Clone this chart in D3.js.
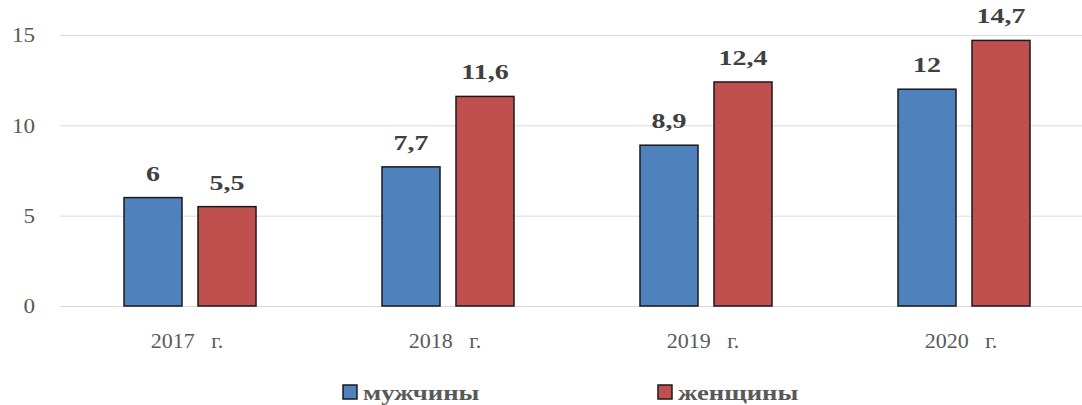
<!DOCTYPE html>
<html>
<head>
<meta charset="utf-8">
<script src="https://cdn.jsdelivr.net/npm/d3@7"></script>
<style>
  body { margin: 0; background: #fff; }
</style>
</head>
<body>
<div id="container"></div>
<script>
const years = ["2017   г.", "2018   г.", "2019   г.", "2020   г."];
const seriesNames = ["мужчины", "женщины"];
const men = [6, 7.7, 8.9, 12];
const women = [5.5, 11.6, 12.4, 14.7];
const yTicks = [0, 5, 10, 15];
const colors = ["#4F81BD", "#C0504D"];

const width = 1082;
const height = 405;
const fontSerif = "'Liberation Serif', 'DejaVu Serif', 'Times New Roman', serif";

const svg = d3.select("#container")
  .append("svg")
  .attr("width", width)
  .attr("height", height)
  .attr("font-family", fontSerif)
  .style("font-family", fontSerif);

// scales
const scaleX = d3.scaleBand()
  .domain(years)
  .range([61, 1093])
  .paddingInner(0)
  .paddingOuter(0);
const scaleY = d3.scaleLinear()
  .domain([0, 15])
  .range([306, 35]);
const scaleSub = d3.scaleBand()
  .domain(seriesNames)
  .range([-66, 66])
  .paddingInner(16 / 74)
  .paddingOuter(0);

// grid
svg.append("g")
  .selectAll("line")
  .data(yTicks)
  .join("line")
  .attr("x1", 60)
  .attr("x2", width)
  .attr("y1", d => scaleY(d) + 0.5)
  .attr("y2", d => scaleY(d) + 0.5)
  .attr("stroke", "#d9d9d9")
  .attr("stroke-width", 1);

// y axis labels
svg.append("g")
  .selectAll("text")
  .data(yTicks)
  .join("text")
  .attr("transform", d => `translate(35, ${scaleY(d)}) scale(1.1, 1)`)
  .attr("dy", "0.35em")
  .attr("text-anchor", "end")
  .attr("fill", "#595959")
  .style("font-size", "21px")
  .text(d => d);

// bars
const rows = years.map((y, i) => ({ year: y, values: [men[i], women[i]] }));
const groups = svg.append("g")
  .selectAll("g")
  .data(rows)
  .join("g")
  .attr("transform", d => `translate(${scaleX(d.year) + scaleX.bandwidth() / 2}, 0)`);

groups.selectAll("rect")
  .data(d => d.values.map((v, k) => ({ name: seriesNames[k], value: v, k })))
  .join("rect")
  .attr("x", d => scaleSub(d.name))
  .attr("width", scaleSub.bandwidth())
  .attr("y", d => scaleY(d.value))
  .attr("height", d => scaleY(0) - scaleY(d.value))
  .attr("fill", d => colors[d.k])
  .attr("stroke", "#1a1a1a")
  .attr("stroke-width", 1.5);

groups.selectAll("text")
  .data(d => d.values.map((v, k) => ({ name: seriesNames[k], value: v })))
  .join("text")
  .attr("transform", d => `translate(${scaleSub(d.name) + scaleSub.bandwidth() / 2}, ${scaleY(d.value) - 17}) scale(1.27, 1)`)
  .attr("text-anchor", "middle")
  .attr("fill", "#404040")
  .style("font-size", "22px")
  .style("font-weight", "bold")
  .text(d => String(d.value).replace(".", ","));

// x labels
svg.append("g")
  .selectAll("text")
  .data(years)
  .join("text")
  .attr("x", d => scaleX(d) + scaleX.bandwidth() / 2 - 3)
  .attr("y", 348)
  .attr("text-anchor", "middle")
  .attr("fill", "#595959")
  .style("font-size", "22px")
  .style("white-space", "pre")
  .text(d => d);

// legend
const legendX = [343, 658];
const legend = svg.append("g")
  .selectAll("g")
  .data(seriesNames)
  .join("g")
  .attr("transform", (d, i) => `translate(${legendX[i]}, 385)`);
legend.append("rect")
  .attr("width", 14)
  .attr("height", 14)
  .attr("fill", (d, i) => colors[i])
  .attr("stroke", "#1a1a1a")
  .attr("stroke-width", 1.5);
legend.append("text")
  .attr("transform", "translate(20, 15) scale(1.27, 1)")
  .attr("fill", "#595959")
  .style("font-size", "21px")
  .style("font-weight", "bold")
  .text(d => d);
</script>
</body>
</html>
